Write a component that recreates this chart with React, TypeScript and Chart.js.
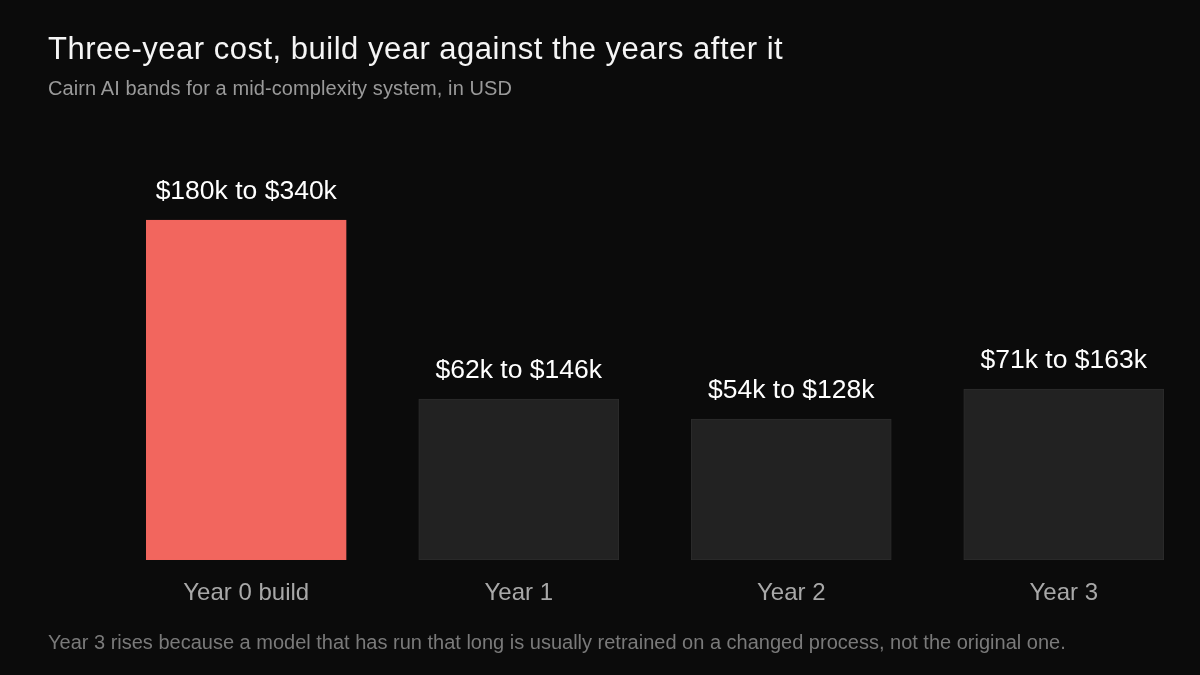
import React, { useEffect, useRef } from "react";
import { Chart, registerables } from "chart.js";

Chart.register(...registerables);

const categories = ["Year 0 build", "Year 1", "Year 2", "Year 3"];
const lowK = [180, 62, 54, 71];
const highK = [340, 146, 128, 163];
const barHeights = [340, 161, 141, 171];
const barColors = ["#f2665e", "#222222", "#222222", "#222222"];
const barBorders = ["#f2665e", "#2c2c2c", "#2c2c2c", "#2c2c2c"];

const FONT = '"Liberation Sans", Arial, Helvetica, sans-serif';

const labelPlugin = {
  id: "bandLabels",
  afterDatasetsDraw(chart: any) {
    const ctx = chart.ctx;
    const meta = chart.getDatasetMeta(0);
    const xScale = chart.scales.x;
    ctx.save();
    ctx.textAlign = "center";
    ctx.textBaseline = "alphabetic";
    meta.data.forEach((bar: any, i: number) => {
      const x = xScale.getPixelForValue(i);
      ctx.fillStyle = "#ffffff";
      ctx.font = `26.5px ${FONT}`;
      ctx.fillText(`$${lowK[i]}k to $${highK[i]}k`, x, bar.y - 21);
      ctx.fillStyle = "#a8a8a8";
      ctx.font = `24px ${FONT}`;
      ctx.fillText(categories[i], x, chart.chartArea.bottom + 40);
    });
    ctx.restore();
  },
};

export default function App() {
  const ref = useRef<HTMLCanvasElement | null>(null);

  useEffect(() => {
    document.body.style.margin = "0";
    document.body.style.background = "#0b0b0b";
    if (!ref.current) return;
    const chart = new Chart(ref.current, {
      type: "bar",
      data: {
        labels: categories,
        datasets: [
          {
            data: barHeights,
            backgroundColor: barColors,
            borderColor: barBorders,
            borderWidth: 1,
            borderSkipped: false,
            barThickness: 200,
          },
        ],
      },
      options: {
        responsive: false,
        animation: false,
        devicePixelRatio: 1,
        layout: { padding: { left: 110, right: 0, top: 160, bottom: 115 } },
        plugins: {
          legend: { display: false },
          tooltip: { enabled: false },
          title: { display: false },
        },
        scales: {
          x: { display: false },
          y: { display: false, min: 0, max: 400 },
        },
      },
      plugins: [labelPlugin],
    });
    return () => chart.destroy();
  }, []);

  return (
    <div
      style={{
        position: "relative",
        width: 1200,
        height: 675,
        background: "#0b0b0b",
        overflow: "hidden",
        fontFamily: FONT,
      }}
    >
      <canvas
        ref={ref}
        width={1200}
        height={675}
        style={{ position: "absolute", left: 0, top: 0, width: 1200, height: 675 }}
      />
      <div
        style={{
          position: "absolute",
          left: 48,
          top: 33,
          fontSize: 31,
          letterSpacing: "0.5px",
          lineHeight: "32px",
          color: "#f5f5f5",
          whiteSpace: "nowrap",
        }}
      >
        Three-year cost, build year against the years after it
      </div>
      <div
        style={{
          position: "absolute",
          left: 48,
          top: 77,
          fontSize: 20,
          letterSpacing: "0.1px",
          lineHeight: "22px",
          color: "#9a9a9a",
          whiteSpace: "nowrap",
        }}
      >
        Cairn AI bands for a mid-complexity system, in USD
      </div>
      <div
        style={{
          position: "absolute",
          left: 48,
          top: 631,
          fontSize: 20,
          lineHeight: "22px",
          color: "#7a7a7a",
          whiteSpace: "nowrap",
        }}
      >
        Year 3 rises because a model that has run that long is usually retrained on a changed process, not the original one.
      </div>
    </div>
  );
}
